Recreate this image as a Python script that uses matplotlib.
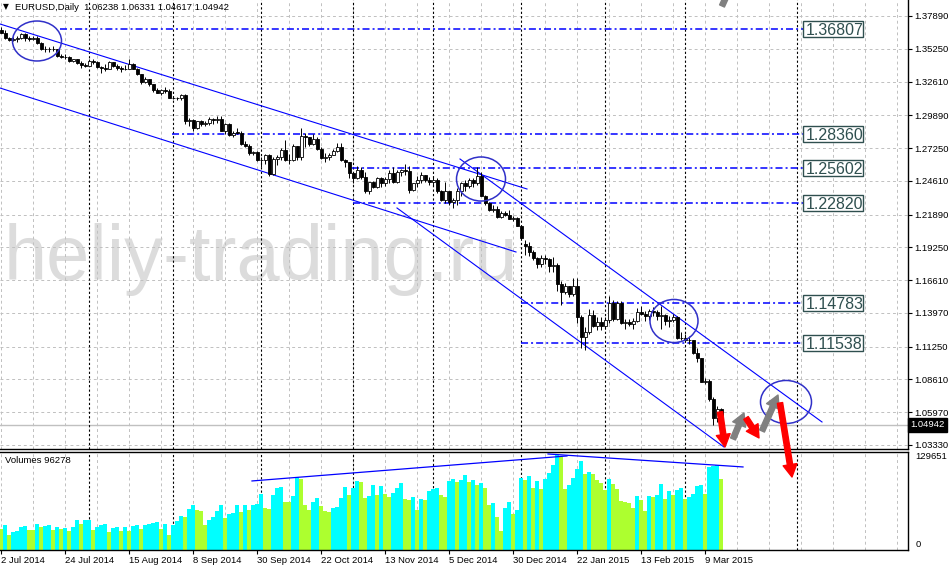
import matplotlib
matplotlib.use("Agg")
import matplotlib.pyplot as plt
import matplotlib.transforms as mtransforms
from matplotlib.patches import Ellipse, Rectangle
import numpy as np

# EURUSD daily bars, 2 Jul 2014 .. 13 Mar 2015 (one bar per trading day)
opens = [
    1.3677, 1.3655, 1.3615, 1.3595, 1.3605, 1.3615, 1.3640, 1.3610, 1.3605, 1.3615, 1.3575, 1.3525, 1.3525, 1.3525, 1.3522, 1.3465, 1.3462, 1.3460, 1.3430, 1.3440, 1.3410, 1.3395,  # jul
    1.3388, 1.3430, 1.3415, 1.3375, 1.3370, 1.3362, 1.3415, 1.3385, 1.3370, 1.3365, 1.3362, 1.3400, 1.3365, 1.3320, 1.3255, 1.3280, 1.3240, 1.3195, 1.3172, 1.3190, 1.3182,  # aug
    1.3130, 1.3130, 1.3132, 1.3150, 1.2945, 1.2950, 1.2890, 1.2940, 1.2920, 1.2925, 1.2960, 1.2950, 1.2960, 1.2865, 1.2920, 1.2830, 1.2850, 1.2850, 1.2760, 1.2745, 1.2683, 1.2690,  # sep
    1.2630, 1.2625, 1.2670, 1.2515, 1.2640, 1.2650, 1.2710, 1.2630, 1.2630, 1.2740, 1.2650, 1.2820, 1.2810, 1.2760, 1.2800, 1.2720, 1.2645, 1.2650, 1.2670, 1.2700, 1.2730, 1.2630, 1.2610,  # oct
    1.2525, 1.2480, 1.2550, 1.2490, 1.2375, 1.2450, 1.2410, 1.2480, 1.2440, 1.2475, 1.2525, 1.2450, 1.2535, 1.2545, 1.2540, 1.2390, 1.2440, 1.2470, 1.2505, 1.2470,  # nov
    1.2450, 1.2470, 1.2380, 1.2310, 1.2375, 1.2290, 1.2310, 1.2380, 1.2440, 1.2420, 1.2465, 1.2440, 1.2500, 1.2340, 1.2285, 1.2225, 1.2230, 1.2170, 1.2200, 1.2185, 1.2155, 1.2160,  # dec
    1.2100, 1.1955, 1.1935, 1.1890, 1.1840, 1.1790, 1.1840, 1.1830, 1.1775, 1.1780, 1.1630, 1.1565, 1.1610, 1.1550, 1.1610, 1.1365, 1.1205, 1.1240, 1.1380, 1.1290, 1.1320,  # jan
    1.1290, 1.1340, 1.1480, 1.1345, 1.1475, 1.1315, 1.1320, 1.1310, 1.1330, 1.1400, 1.1385, 1.1370, 1.1410, 1.1405, 1.1375, 1.1380, 1.1330, 1.1340, 1.1365, 1.1195,  # feb
    1.1195, 1.1180, 1.1175, 1.1075, 1.1030, 1.0840, 1.0850, 1.0700, 1.0550, 1.06238,  # mar
]
highs = [
    1.3700, 1.3675, 1.3620, 1.3617, 1.3630, 1.3650, 1.3653, 1.3625, 1.3625, 1.3630, 1.3580, 1.3545, 1.3540, 1.3545, 1.3525, 1.3480, 1.3480, 1.3470, 1.3445, 1.3445, 1.3430, 1.3410,
    1.3445, 1.3440, 1.3425, 1.3390, 1.3400, 1.3430, 1.3420, 1.3400, 1.3385, 1.3395, 1.3445, 1.3410, 1.3370, 1.3325, 1.3300, 1.3285, 1.3245, 1.3210, 1.3200, 1.3220, 1.3200,
    1.3145, 1.3140, 1.3160, 1.3162, 1.2970, 1.2955, 1.2945, 1.2950, 1.2945, 1.2975, 1.2970, 1.2985, 1.2985, 1.2925, 1.2925, 1.2860, 1.2890, 1.2860, 1.2780, 1.2760, 1.2705, 1.2700,
    1.2650, 1.2680, 1.2680, 1.2650, 1.2670, 1.2725, 1.2790, 1.2680, 1.2760, 1.2745, 1.2887, 1.2845, 1.2815, 1.2835, 1.2815, 1.2730, 1.2685, 1.2685, 1.2715, 1.2765, 1.2765, 1.2640, 1.2615,
    1.2530, 1.2580, 1.2570, 1.2535, 1.2450, 1.2460, 1.2490, 1.2490, 1.2490, 1.2545, 1.2575, 1.2545, 1.2560, 1.2600, 1.2580, 1.2445, 1.2500, 1.2530, 1.2510, 1.2490,
    1.2500, 1.2480, 1.2390, 1.2455, 1.2380, 1.2325, 1.2400, 1.2455, 1.2465, 1.2480, 1.2480, 1.2570, 1.2530, 1.2350, 1.2290, 1.2265, 1.2255, 1.2215, 1.2215, 1.2225, 1.2180, 1.2170,
    1.2100, 1.1985, 1.1965, 1.1905, 1.1845, 1.1860, 1.1865, 1.1840, 1.1850, 1.1800, 1.1650, 1.1640, 1.1615, 1.1680, 1.1680, 1.1380, 1.1285, 1.1425, 1.1420, 1.1365, 1.1360,
    1.1365, 1.1535, 1.1500, 1.1490, 1.1495, 1.1350, 1.1345, 1.1355, 1.1435, 1.1450, 1.1410, 1.1430, 1.1445, 1.1420, 1.1450, 1.1385, 1.1375, 1.1385, 1.1370, 1.1240,
    1.1225, 1.1210, 1.1180, 1.1115, 1.1035, 1.0870, 1.0860, 1.0720, 1.0650, 1.06331,
]
lows = [
    1.3650, 1.3603, 1.3590, 1.3590, 1.3580, 1.3600, 1.3590, 1.3590, 1.3595, 1.3565, 1.3515, 1.3500, 1.3500, 1.3505, 1.3455, 1.3450, 1.3440, 1.3420, 1.3420, 1.3405, 1.3367, 1.3375,
    1.3385, 1.3405, 1.3370, 1.3333, 1.3345, 1.3360, 1.3380, 1.3355, 1.3335, 1.3350, 1.3360, 1.3360, 1.3310, 1.3245, 1.3250, 1.3225, 1.3180, 1.3165, 1.3150, 1.3170, 1.3125,
    1.3120, 1.3110, 1.3115, 1.2920, 1.2900, 1.2860, 1.2875, 1.2905, 1.2900, 1.2910, 1.2915, 1.2925, 1.2860, 1.2840, 1.2820, 1.2815, 1.2835, 1.2750, 1.2735, 1.2670, 1.2665, 1.2620,
    1.2570, 1.2600, 1.2500, 1.2510, 1.2585, 1.2625, 1.2620, 1.2600, 1.2620, 1.2625, 1.2625, 1.2730, 1.2740, 1.2750, 1.2710, 1.2640, 1.2615, 1.2625, 1.2665, 1.2690, 1.2620, 1.2570, 1.2480,
    1.2440, 1.2475, 1.2475, 1.2360, 1.2355, 1.2400, 1.2405, 1.2410, 1.2420, 1.2445, 1.2440, 1.2440, 1.2500, 1.2510, 1.2360, 1.2375, 1.2415, 1.2440, 1.2455, 1.2430,
    1.2420, 1.2360, 1.2300, 1.2285, 1.2270, 1.2245, 1.2270, 1.2340, 1.2375, 1.2405, 1.2410, 1.2430, 1.2335, 1.2270, 1.2220, 1.2210, 1.2165, 1.2165, 1.2175, 1.2150, 1.2135, 1.2095,
    1.1980, 1.1860, 1.1855, 1.1825, 1.1755, 1.1770, 1.1790, 1.1730, 1.1730, 1.1570, 1.1460, 1.1550, 1.1525, 1.1530, 1.1315, 1.1115, 1.1098, 1.1230, 1.1280, 1.1260, 1.1260,
    1.1270, 1.1315, 1.1330, 1.1340, 1.1305, 1.1270, 1.1290, 1.1270, 1.1320, 1.1380, 1.1335, 1.1340, 1.1375, 1.1340, 1.1270, 1.1300, 1.1280, 1.1320, 1.1185, 1.1175,
    1.1160, 1.1150, 1.1065, 1.1000, 1.0840, 1.0820, 1.0690, 1.0495, 1.0520, 1.04617,
]
closes = [
    1.3655, 1.3615, 1.3595, 1.3605, 1.3615, 1.3640, 1.3610, 1.3605, 1.3615, 1.3575, 1.3525, 1.3525, 1.3525, 1.3522, 1.3465, 1.3462, 1.3460, 1.3430, 1.3440, 1.3410, 1.3395, 1.3388,
    1.3430, 1.3415, 1.3375, 1.3370, 1.3362, 1.3415, 1.3385, 1.3370, 1.3365, 1.3362, 1.3400, 1.3365, 1.3320, 1.3255, 1.3280, 1.3240, 1.3195, 1.3172, 1.3190, 1.3182, 1.3130,
    1.3130, 1.3132, 1.3150, 1.2945, 1.2950, 1.2890, 1.2940, 1.2920, 1.2925, 1.2960, 1.2950, 1.2960, 1.2865, 1.2920, 1.2830, 1.2850, 1.2850, 1.2760, 1.2745, 1.2683, 1.2690, 1.2630,
    1.2625, 1.2670, 1.2515, 1.2640, 1.2650, 1.2710, 1.2630, 1.2630, 1.2740, 1.2650, 1.2820, 1.2810, 1.2760, 1.2800, 1.2720, 1.2645, 1.2650, 1.2670, 1.2700, 1.2730, 1.2630, 1.2610, 1.2525,
    1.2480, 1.2550, 1.2490, 1.2375, 1.2450, 1.2410, 1.2480, 1.2440, 1.2475, 1.2525, 1.2450, 1.2535, 1.2545, 1.2540, 1.2390, 1.2440, 1.2470, 1.2505, 1.2470, 1.2450,
    1.2470, 1.2380, 1.2310, 1.2375, 1.2290, 1.2310, 1.2380, 1.2440, 1.2420, 1.2465, 1.2440, 1.2500, 1.2340, 1.2285, 1.2225, 1.2230, 1.2170, 1.2200, 1.2185, 1.2155, 1.2160, 1.2100,
    1.2000, 1.1935, 1.1890, 1.1840, 1.1790, 1.1840, 1.1830, 1.1775, 1.1780, 1.1630, 1.1565, 1.1610, 1.1550, 1.1610, 1.1365, 1.1205, 1.1240, 1.1380, 1.1290, 1.1320, 1.1290,
    1.1340, 1.1480, 1.1345, 1.1475, 1.1315, 1.1320, 1.1310, 1.1330, 1.1400, 1.1385, 1.1370, 1.1410, 1.1405, 1.1375, 1.1380, 1.1330, 1.1340, 1.1365, 1.1195, 1.1195,
    1.1180, 1.1175, 1.1075, 1.1030, 1.0840, 1.0850, 1.0700, 1.0550, 1.0625, 1.04942,
]
# tick volumes
volumes = [
    28000, 34000, 21000, 25000, 26000, 31000, 33000, 27000, 27000, 36000, 31000, 33000, 34000, 27000, 31000, 28000, 30000, 26000, 31000, 41000, 35000, 41000,
    41500, 27000, 32000, 34000, 35000, 24000, 30000, 31000, 26000, 32000, 26000, 33000, 34000, 29000, 34000, 36000, 37000, 38000, 29000, 35000, 21000,
    34000, 39000, 46000, 45000, 56000, 61000, 54000, 53000, 34000, 41000, 45000, 53000, 61000, 44000, 49000, 51000, 61500, 52000, 61000, 55000, 62000, 63000,
    76000, 57000, 56000, 75000, 84000, 86000, 66000, 65000, 73000, 99000, 97000, 61000, 55000, 66000, 71000, 60000, 53000, 52000, 57000, 59000, 71000, 86000, 75000,
    84000, 94000, 93000, 71000, 73000, 88000, 75000, 87000, 77000, 72000, 78000, 84000, 92000, 69000, 68000, 72000, 55000, 69000, 68000, 80000,
    83000, 85000, 75000, 72000, 94000, 97000, 93000, 95000, 103000, 93000, 96000, 89000, 92000, 84000, 61000, 64000, 45000, 26000, 57000, 65000, 49000, 55000,
    98000, 96000, 101000, 85000, 94000, 83000, 97000, 105000, 116000, 129651, 127000, 83000, 89000, 98000, 111000, 122000, 104000, 107000, 104000, 95000, 91000,
    82000, 97000, 90000, 83000, 67000, 65000, 64000, 57000, 74000, 68000, 53000, 73000, 72000, 75000, 90000, 69000, 80000, 75000, 82000, 84000,
    69000, 72000, 76000, 87000, 89000, 76000, 113000, 115000, 116000, 96278,
]

date_labels = ["2 Jul 2014", "24 Jul 2014", "15 Aug 2014", "8 Sep 2014", "30 Sep 2014",
               "22 Oct 2014", "13 Nov 2014", "5 Dec 2014", "30 Dec 2014", "22 Jan 2015",
               "13 Feb 2015", "9 Mar 2015"]
label_step = 16
month_starts = [22, 43, 65, 88, 108, 130, 151, 171, 199]   # bar index of 1st day of month
price_ticks = [1.3789, 1.3525, 1.3261, 1.2989, 1.2725, 1.2461, 1.2189, 1.1925,
               1.1661, 1.1397, 1.1125, 1.0861, 1.0597, 1.0333]

# hand drawn objects on the chart (bar index, price)
levels = [1.36807, 1.28360, 1.25602, 1.22820, 1.14783, 1.11538]
level_from = [14.75, 42.75, 87.75, 88.0, 130.0, 130.0]
level_to = 200.5
trend_lines = [((-0.25, 1.37245), (131.5, 1.2395)),
               ((-0.25, 1.32088), (128.75, 1.18873)),
               ((99.0, 1.22419), (180.75, 1.0316)),
               ((114.75, 1.26367), (205.25, 1.05175))]
circles = [(9.0, 1.35875, 12.25, 0.0322), (120.0, 1.24755, 12.25, 0.0355),
           (168.25, 1.13313, 12.0, 0.0347), (196.25, 1.06786, 12.75, 0.0347)]
arrows = [((179.75, 1.0598), (181.0, 1.0316), "#ff0000"),
          ((183.0, 1.0381), (185.75, 1.0590), "#808080"),
          ((186.25, 1.0550), (189.5, 1.0389), "#ff0000"),
          ((190.25, 1.0445), (194.25, 1.0735), "#808080"),
          ((194.75, 1.0671), (197.75, 1.0074), "#ff0000"),
          ((180.25, 1.3870), (183.75, 1.4119), "#808080")]   # last one runs off the top
vol_lines = [((62.75, 94200), (141.5, 128300)), ((136.75, 131000), (185.5, 113300))]

n = len(closes)
x = np.arange(n)
o = np.array(opens); h = np.array(highs); l = np.array(lows); c = np.array(closes)
v = np.array(volumes)

W, H = 949, 566
fig = plt.figure(figsize=(W / 100, H / 100), dpi=100)
ax = fig.add_axes([0, 1 - 449 / H, 908 / W, 449 / H])
axv = fig.add_axes([0, 16 / H, 908 / W, 98 / H])
ax.set_zorder(2)
axv.set_zorder(1)

xmin, xmax = -0.25, 226.75
ax.set_xlim(xmin, xmax)
axv.set_xlim(xmin, xmax)
ax.set_ylim(1.02999, 1.39179)
axv.set_ylim(0, 133700)

font = ["Liberation Sans", "DejaVu Sans"]
grid_kw = dict(color="#c0c0c0", lw=0.7, linestyles=(0, (3, 3)), zorder=1)
sep_kw = dict(color="black", lw=0.8, linestyles=(0, (2, 2)), zorder=1.5)

# grid + period separators
gx = np.arange(0, 227, 8)
for a, (lo, hi) in ((ax, ax.get_ylim()), (axv, axv.get_ylim())):
    a.vlines(gx, lo, hi, **grid_kw)
    a.vlines(month_starts, lo, hi, **sep_kw)
ax.hlines(price_ticks, xmin, xmax, **grid_kw)

# watermark
ax.text(4 / 908, 1 - 280 / 449, "heliy-trading.ru", transform=ax.transAxes,
        fontsize=56, color="#dcdcdc", family=font, va="baseline", ha="left", zorder=0.5)

# bid line
ax.axhline(c[-1], color="#c0c0c0", lw=1, zorder=1.2)

# candles
ax.vlines(x, l, h, color="black", lw=0.7, zorder=3)
body_lo = np.minimum(o, c)
body_h = np.maximum(np.abs(c - o), 0.00012)
fill = np.where(c > o, "white", "black")
ax.bar(x, body_h, bottom=body_lo, width=0.75, color=fill, edgecolor="black",
       linewidth=0.6, zorder=3.5)

# level lines with boxed labels
for lev, x0 in zip(levels, level_from):
    ax.hlines(lev, x0, level_to, color="#0000ff", lw=1.1,
              linestyles=(0, (4.6, 2, 1.3, 2)), zorder=2)
    ax.add_patch(Rectangle((level_to, lev - 0.00645), 15, 0.0129, fc="white",
                           ec="#2f4f4f", lw=1.0, zorder=4))
    ax.text(level_to + 0.6, lev, f"{lev:.5f}", fontsize=11.5, color="#2f4f4f",
            family=font, va="center_baseline", ha="left", zorder=5)

for (x0, y0), (x1, y1) in trend_lines:
    ax.plot([x0, x1], [y0, y1], color="#0000ff", lw=0.8, zorder=2.5)

for cx, cy, w, hh in circles:
    ax.add_patch(Ellipse((cx, cy), w, hh, fill=False, ec="#3030c8", lw=1.1, zorder=4))

for tail, tip, col in arrows:
    ax.annotate("", xy=tip, xytext=tail, annotation_clip=False, zorder=6,
                arrowprops=dict(arrowstyle="simple,head_length=0.9,head_width=1.0,tail_width=0.38",
                                color=col, shrinkA=0, shrinkB=0, mutation_scale=10))

# header
ax.text(3 / 908, 1 - 7 / 449, "\u25bc", transform=ax.transAxes, fontsize=5.5,
        family=["DejaVu Sans"], va="center", ha="left", zorder=6)
ax.text(15 / 908, 1 - 7 / 449,
        f"EURUSD,Daily  {o[-1]:.5f} {h[-1]:.5f} {l[-1]:.5f} {c[-1]:.5f}",
        transform=ax.transAxes, fontsize=6.8, family=font, va="center", ha="left", zorder=6)

# price axis
ax.yaxis.tick_right()
ax.set_yticks(price_ticks)
ax.set_yticklabels([f"{p:.5f}" for p in price_ticks], family=font)
ax.tick_params(axis="y", direction="out", length=3, width=0.8, labelsize=6.8, pad=1.5)
ax.set_xticks([])
trans = mtransforms.blended_transform_factory(ax.transAxes, ax.transData)
ax.text(1.003, c[-1], f"{c[-1]:.5f}", transform=trans, fontsize=6.8, family=font,
        color="white", va="center", ha="left", zorder=7, clip_on=False,
        bbox=dict(boxstyle="square,pad=0.25", fc="black", ec="black"))
for s in ("left", "top"):
    ax.spines[s].set_visible(False)
ax.spines["right"].set_linewidth(1)
ax.spines["bottom"].set_linewidth(1)

# volumes
vcol = ["#adff2f"] + ["#00ffff" if v[i] > v[i - 1] else "#adff2f" for i in range(1, n)]
axv.bar(x, v, width=1.0, color=vcol, linewidth=0, zorder=2)
for (x0, y0), (x1, y1) in vol_lines:
    axv.plot([x0, x1], [y0, y1], color="#0000ff", lw=0.9, zorder=3)
axv.text(5 / 908, 0.918, f"Volumes {v[-1]}", transform=axv.transAxes, fontsize=6.8,
         family=font, va="center", ha="left", zorder=6)
axv.text(1.008, 0.949, f"{v.max()}", transform=axv.transAxes, fontsize=6.8,
         family=font, va="center", ha="left")
axv.text(1.008, 0.06, "0", transform=axv.transAxes, fontsize=6.8,
         family=font, va="center", ha="left")
axv.set_yticks([])
axv.spines["left"].set_visible(False)
for s in ("top", "right", "bottom"):
    axv.spines[s].set_linewidth(1)

tick_idx = np.arange(len(date_labels)) * label_step
axv.set_xticks(tick_idx)
axv.set_xticklabels(date_labels, ha="left", family=font)
axv.tick_params(axis="x", direction="out", length=3, width=0.8, labelsize=6.8, pad=1)

fig.savefig("out.png", dpi=100)
